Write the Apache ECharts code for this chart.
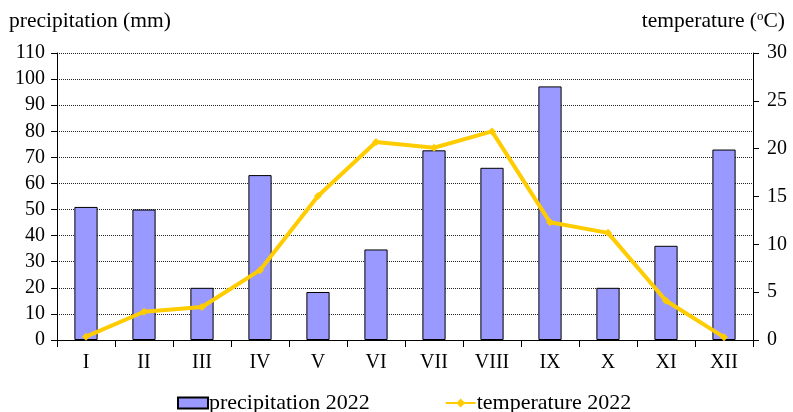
<!DOCTYPE html>
<html>
<head>
<meta charset="utf-8">
<script src="https://cdn.jsdelivr.net/npm/echarts@6/dist/echarts.min.js"></script>
<style>
  html, body { margin: 0; padding: 0; background: #fff; }
  #chart { width: 793px; height: 412px; }
</style>
</head>
<body>
<div id="chart"></div>
<script>
let months = ['I', 'II', 'III', 'IV', 'V', 'VI', 'VII', 'VIII', 'IX', 'X', 'XI', 'XII'];
let precipitation = [51, 50, 20, 63.2, 18.4, 34.7, 72.7, 66, 97.2, 20, 36.1, 73];
let temperature = [0.35, 2.95, 3.45, 7.3, 15.05, 20.7, 20.1, 21.8, 12.3, 11.2, 4.1, 0.3];

let font = 'Liberation Serif, Times New Roman, serif';
let chart = echarts.init(document.getElementById('chart'));

let option = {
    animation: false,
    textStyle: { fontFamily: font, color: '#000' },
    title: [
        {
            text: 'precipitation (mm)',
            left: 4, top: 5,
            textStyle: { fontFamily: font, fontSize: 21.5, fontWeight: 'normal', color: '#000' }
        },
        {
            text: 'temperature ({sup|o}C)',
            right: 3, top: 5,
            textStyle: {
                fontFamily: font, fontSize: 21.5, fontWeight: 'normal', color: '#000',
                rich: { sup: { fontFamily: font, fontSize: 13, verticalAlign: 'top', padding: [0, 0, 9, 0], color: '#000' } }
            }
        }
    ],
    legend: {
        bottom: -7,
        left: 172,
        itemGap: 75,
        itemWidth: 30,
        itemHeight: 11,
        textStyle: { fontFamily: font, fontSize: 22, color: '#000', padding: [0, 0, 0, -4] },
        data: [
            { name: 'precipitation 2022', icon: 'rect' },
            { name: 'temperature 2022' }
        ]
    },
    grid: { left: 57, right: 40, top: 53, bottom: 72 },
    xAxis: {
        type: 'category',
        data: months,
        boundaryGap: true,
        axisLine: { lineStyle: { color: '#000', width: 1 } },
        axisTick: { show: true, length: 7, lineStyle: { color: '#000' } },
        axisLabel: { fontFamily: font, fontSize: 20, color: '#000', margin: 13 }
    },
    yAxis: [
        {
            type: 'value',
            min: 0, max: 110, interval: 10,
            axisLine: { show: true, lineStyle: { color: '#000' } },
            axisTick: { show: true, length: 6, lineStyle: { color: '#000' } },
            axisLabel: { fontFamily: font, fontSize: 20, color: '#000', margin: 12 },
            splitLine: { show: true, lineStyle: { type: 'dotted', color: '#222', width: 1 } }
        },
        {
            type: 'value',
            min: 0, max: 30, interval: 5,
            position: 'right',
            axisLine: { show: true, lineStyle: { color: '#000' } },
            axisTick: { show: true, length: 6, lineStyle: { color: '#000' } },
            axisLabel: { fontFamily: font, fontSize: 20, color: '#000', margin: 14 },
            splitLine: { show: false }
        }
    ],
    series: [
        {
            name: 'precipitation 2022',
            type: 'bar',
            yAxisIndex: 0,
            barWidth: '40%',
            itemStyle: { color: '#9999ff', borderColor: '#000', borderWidth: 1 },
            data: precipitation
        },
        {
            name: 'temperature 2022',
            type: 'line',
            yAxisIndex: 1,
            symbol: 'diamond',
            symbolSize: 8,
            lineStyle: { color: '#ffcc00', width: 4 },
            itemStyle: { color: '#ffcc00' },
            data: temperature
        }
    ]
};

chart.setOption(option);
window.addEventListener('resize', function () {
    chart.resize();
});
</script>
</body>
</html>
